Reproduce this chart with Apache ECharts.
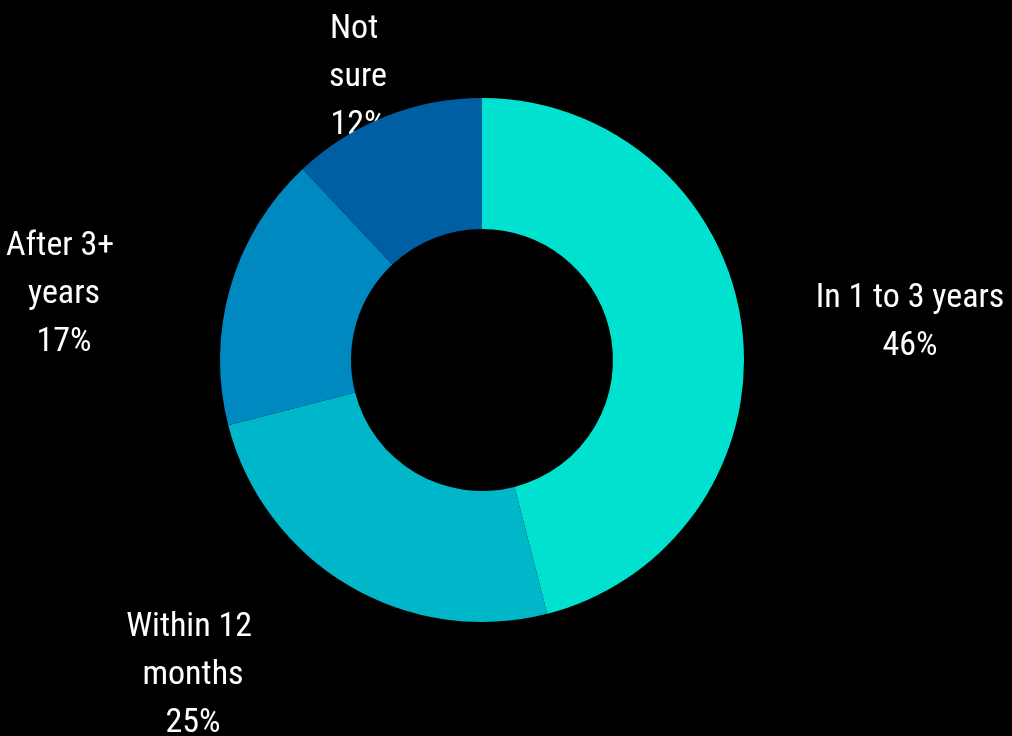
<!DOCTYPE html>
<html>
<head>
<meta charset="utf-8">
<script src="https://cdn.jsdelivr.net/npm/echarts@6/dist/echarts.min.js"></script>
<style>
html,body{margin:0;padding:0;background:#000;}
#chart{width:1012px;height:736px;}
</style>
</head>
<body>
<div id="chart"></div>
<script>
// ---- data ----
const categories = ['In 1 to 3 years', 'Within 12 months', 'After 3+ years', 'Not sure'];
const values = [46, 25, 17, 12];

// ---- styles / layout (not data) ----
const colors = ['#00E2CF', '#00B7CA', '#0088C0', '#005FA3'];
const labelWrapWidth = [240, 150, 130, 75];
const labelCenters = [[910, 322], [193, 675], [64, 294], [358, 77]];
const FONT = '"Roboto Condensed", "Liberation Sans Narrow", "DejaVu Sans Condensed", Roboto, sans-serif';

const chart = echarts.init(document.getElementById('chart'), null, {renderer: 'canvas'});

const labelData = categories.map((c, i) => ({
  name: c,
  value: values[i],
  label: { width: labelWrapWidth[i] }
}));
const sliceData = categories.map((c, i) => ({
  name: c,
  value: values[i],
  itemStyle: { color: colors[i] }
}));

const common = {
  type: 'pie',
  center: [482, 360],
  radius: [131, 262],
  startAngle: 90,
  clockwise: true,
  avoidLabelOverlap: false,
  animation: false,
  silent: true,
  emphasis: { disabled: true }
};

chart.setOption({
  backgroundColor: '#000000',
  series: [
    Object.assign({}, common, {
      z: 1,
      data: labelData,
      itemStyle: { color: 'rgba(0,0,0,0)' },
      label: {
        show: true,
        position: 'outside',
        formatter: p => p.name + '\n' + p.value + '%',
        color: '#ffffff',
        fontFamily: FONT,
        fontSize: 34,
        lineHeight: 48,
        align: 'center',
        overflow: 'break'
      },
      labelLine: { show: false },
      labelLayout: function (p) {
        const c = labelCenters[p.dataIndex];
        return { x: c[0], y: c[1], align: 'center', verticalAlign: 'middle' };
      }
    }),
    Object.assign({}, common, {
      z: 2,
      data: sliceData,
      label: { show: false },
      labelLine: { show: false }
    })
  ]
});
</script>
</body>
</html>
